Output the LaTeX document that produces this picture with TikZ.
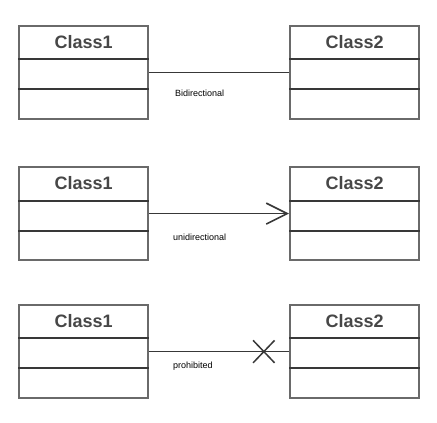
\documentclass[tikz,border=0pt]{standalone}
\usepackage{fontspec}
\setmainfont{Liberation Sans}
\usetikzlibrary{arrows.meta,shapes.misc}
\definecolor{boxgray}{HTML}{6A6A6A}
\definecolor{linegray}{HTML}{383838}
\definecolor{textgray}{HTML}{474747}
\tikzset{
  classbox/.style={draw=boxgray, line width=2.2pt, fill=white, minimum width=129pt, minimum height=93pt, inner sep=0pt, anchor=north west},
  classname/.style={font=\fontsize{18}{18}\selectfont\bfseries, text=textgray, inner sep=0pt},
  divider/.style={draw=linegray, line width=1.5pt},
  assoc/.style={draw=linegray, line width=1.6pt},
  assoclabel/.style={font=\fontsize{9}{9}\selectfont, anchor=west, inner sep=0pt, text=black},
  xmark/.style={cross out, draw=linegray, line width=1.5pt, minimum width=20pt, minimum height=21pt, inner sep=0pt}
}
\begin{document}
\begin{tikzpicture}[x=1pt,y=-1pt]
\useasboundingbox (0,0) rectangle (437,423);
\fill[white] (0,0) rectangle (437,423);
\foreach \r/\top/\ha/\hb in {1/25/34/64, 2/166/35/65, 3/304/34/64}{
  \node[classbox] (L\r) at (18,\top) {};
  \node[classbox] (R\r) at (289,\top) {};
  \draw[divider] ([yshift=-\ha pt]L\r.north west) -- ([yshift=-\ha pt]L\r.north east);
  \draw[divider] ([yshift=-\hb pt]L\r.north west) -- ([yshift=-\hb pt]L\r.north east);
  \draw[divider] ([yshift=-\ha pt]R\r.north west) -- ([yshift=-\ha pt]R\r.north east);
  \draw[divider] ([yshift=-\hb pt]R\r.north west) -- ([yshift=-\hb pt]R\r.north east);
  \node[classname] (LN\r) at ([yshift=-17pt]L\r.north) {Class1};
  \node[classname] (RN\r) at ([yshift=-17pt]R\r.north) {Class2};
}
\draw[assoc] (L1.east) -- (R1.west);
\node[assoclabel] (lab1) at (175,93) {Bidirectional};
\draw[assoc, -{Straight Barb[length=21pt,width=21pt,line width=1.6pt]}] (L2.east) -- (R2.west);
\node[assoclabel] (lab2) at (173,237) {unidirectional};
\draw[assoc] (L3.east) -- (R3.west) node[xmark, pos=0.82] (x3) {};
\node[assoclabel] (lab3) at (173,366) {prohibited};
\end{tikzpicture}
\end{document}
